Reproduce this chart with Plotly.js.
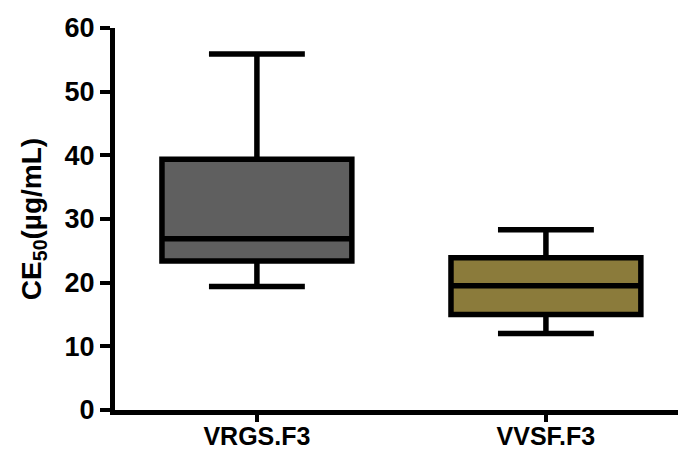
<!DOCTYPE html>
<html>
<head>
<meta charset="utf-8">
<script src="https://cdn.plot.ly/plotly-3.0.1.min.js"></script>
<style>html,body{margin:0;padding:0;background:#fff;}#chart{width:678px;height:452px;}</style>
</head>
<body>
<div id="chart"></div>
<script>
// Data
const categories = ["VRGS.F3", "VVSF.F3"];
const lowerWhisker = [19.4, 12.0];
const q1Values = [23.4, 15.0];
const medianValues = [26.9, 19.5];
const q3Values = [39.4, 23.9];
const upperWhisker = [55.9, 28.3];
const fillColors = ["#5f5f5f", "#8b7b3b"];
const yTickValues = [0, 10, 20, 30, 40, 50, 60];

const FONT = "Liberation Sans, Arial, sans-serif";

const traces = categories.map((c, i) => ({
  type: "box",
  x: [i],
  lowerfence: [lowerWhisker[i]],
  q1: [q1Values[i]],
  median: [medianValues[i]],
  q3: [q3Values[i]],
  upperfence: [upperWhisker[i]],
  width: 0.657,
  whiskerwidth: 0.505,
  fillcolor: fillColors[i],
  line: { color: "#000000", width: 5.5 },
  boxpoints: false,
  hoverinfo: "skip",
  showlegend: false
}));

const layout = {
  width: 678,
  height: 452,
  margin: { l: 115, r: 0, t: 28, b: 42 },
  paper_bgcolor: "#ffffff",
  plot_bgcolor: "#ffffff",
  showlegend: false,
  xaxis: {
    range: [-0.491, 1.457],
    tickmode: "array",
    tickvals: categories.map((c, i) => i),
    ticktext: categories,
    showgrid: false,
    zeroline: false,
    showline: true,
    linecolor: "#000000",
    linewidth: 5,
    ticks: "outside",
    ticklen: 7,
    tickwidth: 4,
    tickcolor: "#000000",
    ticklabelstandoff: -7,
    tickfont: { family: FONT, size: 25, color: "#000000", weight: "bold" },
    automargin: false,
    fixedrange: true
  },
  yaxis: {
    range: [0, 60],
    tickmode: "array",
    tickvals: yTickValues,
    ticktext: yTickValues.map(String),
    showgrid: false,
    zeroline: false,
    showline: true,
    linecolor: "#000000",
    linewidth: 5,
    ticks: "outside",
    ticklen: 10,
    tickwidth: 4,
    tickcolor: "#000000",
    tickfont: { family: FONT, size: 27, color: "#000000", weight: "bold" },
    title: {
      text: "CE<sub>50</sub>(µg/mL)",
      font: { family: FONT, size: 28, color: "#000000", weight: "bold" },
      standoff: 16
    },
    automargin: false,
    fixedrange: true
  }
};

Plotly.newPlot("chart", traces, layout, { staticPlot: true, displayModeBar: false });
</script>
</body>
</html>
